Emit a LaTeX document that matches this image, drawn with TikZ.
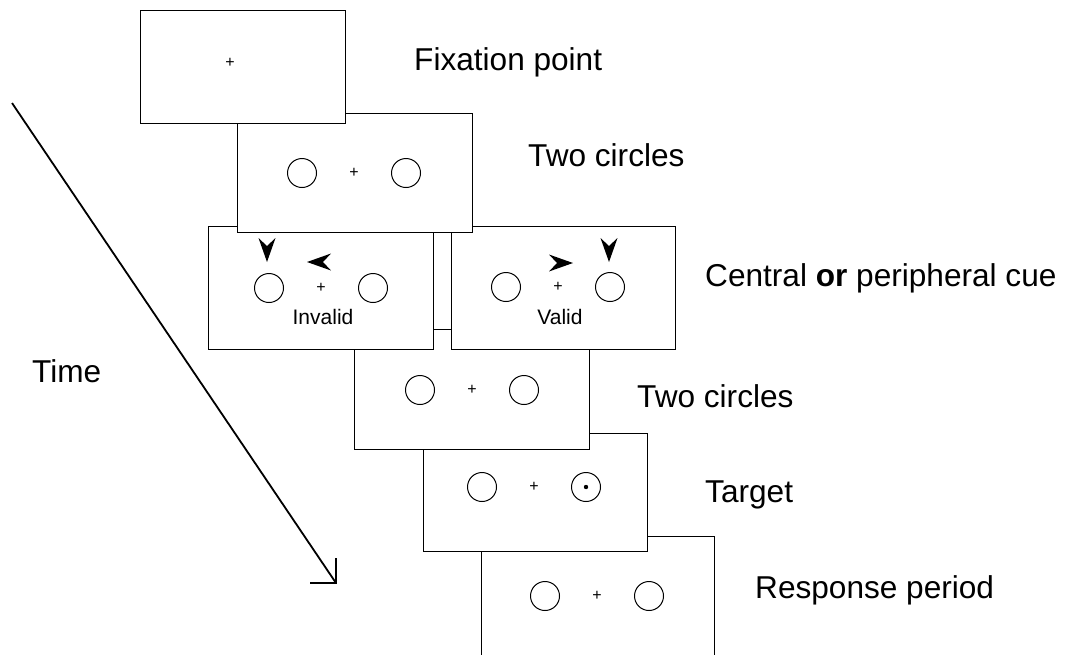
\documentclass[tikz,border=0pt]{standalone}
\usepackage{fontspec}
\setmainfont{Liberation Sans}
\usetikzlibrary{calc}
\tikzset{
    screen/.style={draw, fill=white, line width=1.2pt, inner sep=0pt,
        anchor=north west},
    stagetext/.style={anchor=base west, inner sep=0pt,
        font=\fontsize{31.6}{36}\selectfont},
    cuetext/.style={anchor=base, inner sep=0pt,
        font=\fontsize{21}{24}\selectfont},
    fixmark/.style={inner sep=0pt, font=\fontsize{16}{16}\selectfont},
    stimuli/.pic={
        \draw[line width=1pt] (-52, 0) circle[radius=14.5];
        \draw[line width=1pt] (52, 0) circle[radius=14.5];
        \node[fixmark] (-fix) at (0, 0) {+};
    },
    cuehead/.pic={
        \fill (0, 0) -- (-24, -8.5) -- (-16, 0) -- (-24, 8.5) -- cycle;
    },
}

\begin{document}
\begin{tikzpicture}[x=1pt, y=-1pt]
        \clip (0, 0) rectangle (1065, 654);
        % Screens, back to front
        \node[screen, minimum width=233, minimum height=140] (resp)
            at (481, 536) {};
        \node[screen, minimum width=224, minimum height=118] (target)
            at (423, 433) {};
        \node[screen, minimum width=235, minimum height=120] (twoB)
            at (354, 329) {};
        \node[screen, minimum width=224, minimum height=123] (valid)
            at (451, 226) {};
        \node[screen, minimum width=225, minimum height=123] (invalid)
            at (208, 226) {};
        \node[screen, minimum width=235, minimum height=119] (twoA)
            at (237, 113) {};
        \node[screen, minimum width=205, minimum height=113] (fixation)
            at (140, 10) {};
        \node[fixmark] (fixcross) at (230, 63) {+}; % Fixation point
        \pic (twoApair) at (354, 173) {stimuli};
        \pic (invalidpair) at (321, 288) {stimuli};
        \pic (validpair) at (558, 287) {stimuli};
        \pic (twoBpair) at (472, 390) {stimuli};
        \pic (targetpair) at (534, 487) {stimuli};
        \pic (resppair) at (597, 596) {stimuli};
        \fill (586, 487) circle[radius=2.2]; % Target dot
        % Cues
        \pic[rotate=-90] at (267, 262) {cuehead}; % Peripheral, invalid
        \pic[rotate=180] at (307, 262) {cuehead}; % Central, invalid
        \pic at (573, 263) {cuehead}; % Central, valid
        \pic[rotate=-90] at (609, 262) {cuehead}; % Peripheral, valid
        \node[cuetext] (invalidtext) at (323, 324) {Invalid};
        \node[cuetext] (validtext) at (560, 324) {Valid};
        % Time axis
        \coordinate (tstart) at (12, 103);
        \coordinate (tend) at (336, 583);
        \draw[line width=1.8pt] (tstart) -- (tend);
        \draw[line width=1.8pt] ($(tend)+(-26, 0)$) -- (tend)
            -- ($(tend)+(0, -25)$); % Open arrow head
        \node[stagetext] (timelabel) at (32, 382) {Time};
        % Stage labels
        \node[stagetext] (fixlabel) at (414, 70) {Fixation point};
        \node[stagetext] (twoAlabel) at (528, 166) {Two circles};
        \node[stagetext] (cuelabel) at (705, 286)
            {Central \textbf{or} peripheral cue};
        \node[stagetext] (twoBlabel) at (637, 407) {Two circles};
        \node[stagetext] (targetlabel) at (705, 502) {Target};
        \node[stagetext] (resplabel) at (755, 598) {Response period};
    \end{tikzpicture}
\end{document}
